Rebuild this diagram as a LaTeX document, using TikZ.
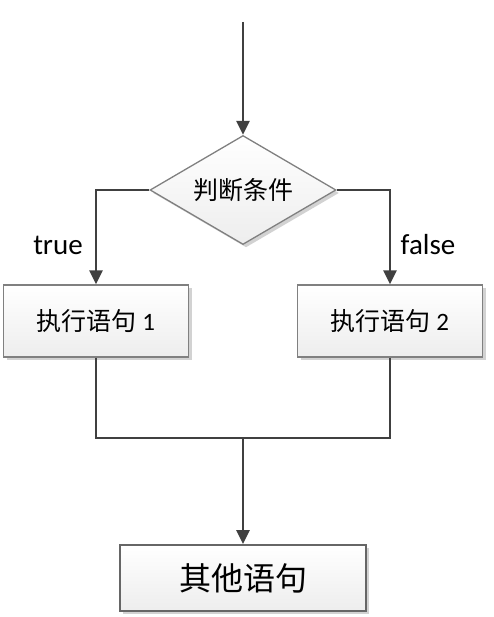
\documentclass[tikz,border=0pt]{standalone}
\usepackage{fontspec}
\setmainfont{Carlito}
\newfontfamily\cjk{Noto Sans CJK SC}
\usetikzlibrary{shapes.geometric,arrows.meta,shadows}
\definecolor{linec}{HTML}{404040}
\definecolor{borderc}{HTML}{808080}
\tikzset{
  conn/.style={draw=linec,line width=2.5pt,-{Triangle[width=13pt,length=14pt]}},
  wire/.style={draw=linec,line width=2.5pt},
  boxbase/.style={draw=borderc,line width=1.3pt,top color=white,bottom color=gray!14,
    drop shadow={shadow xshift=3pt,shadow yshift=-3pt,fill=gray!35,opacity=1},
    inner sep=0pt,font=\fontsize{25}{29}\selectfont},
  dec/.style={boxbase,shape=diamond,shape aspect=1.7,minimum width=186pt,minimum height=109pt},
  proc/.style={boxbase,rectangle,minimum width=185pt,minimum height=72pt},
  lab/.style={font=\fontsize{29}{33}\selectfont,text=black}
}
\begin{document}
\begin{tikzpicture}[x=1pt,y=-1pt]
\useasboundingbox (0,0) rectangle (494,617);
\coordinate (top) at (243,22);
\node[dec] (d) at (243,190) {\cjk 判断条件};
\node[proc] (b1) at (96,321) {{\cjk 执行语句} 1};
\node[proc] (b2) at (390,321) {{\cjk 执行语句} 2};
\node[proc,minimum width=246pt,minimum height=66pt,draw=gray!80!black,line width=1.8pt,
  font=\fontsize{32}{36}\selectfont] (b3) at (243,578) {\cjk 其他语句};
\coordinate (j) at (243,438);
\draw[conn] (top) -- (d.north);
\draw[conn] (d.west) -| (b1.north);
\draw[conn] (d.east) -| (b2.north);
\draw[wire] (b1.south) |- (j);
\draw[wire] (b2.south) |- (j);
\draw[conn] (j) -- (b3.north);
\node[lab] (t) at (58,245) {true};
\node[lab] (f) at (428,245) {false};
\end{tikzpicture}
\end{document}
